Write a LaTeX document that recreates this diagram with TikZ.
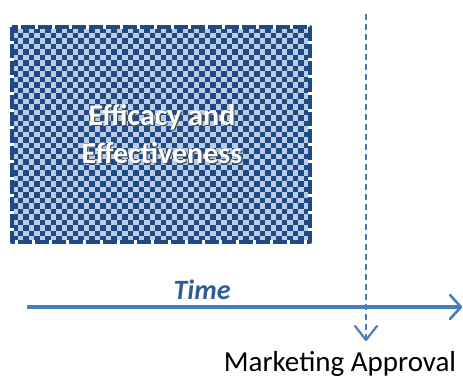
\documentclass[tikz,border=0pt]{standalone}
\usepackage{fontspec}
\setmainfont{Carlito}
\definecolor{boxdark}{HTML}{1F4A86}
\definecolor{boxlight}{HTML}{B9CDE6}
\definecolor{axisblue}{HTML}{4A7EBB}
\definecolor{timeblue}{HTML}{2F5D9B}
\tikzset{
  axisline/.style={axisblue, line width=4pt},
  approvline/.style={axisblue, line width=2.2pt, dash pattern=on 6pt off 4pt},
  chevron/.style={axisblue, line width=2.6pt, line cap=round, line join=round},
  boxtext/.style={font=\fontsize{30}{38}\selectfont\bfseries, text=white, inner sep=0pt},
  shadowtext/.style={font=\fontsize{30}{38}\selectfont\bfseries, text=black!70, inner sep=0pt},
}
\begin{document}
\begin{tikzpicture}[x=1pt,y=-1pt]
\useasboundingbox (0,0) rectangle (463,378);
% checkerboard box
\coordinate (bnw) at (12,27);
\coordinate (bse) at (310,242);
\begin{scope}
  \clip (bnw) rectangle (bse);
  \fill[boxlight] (bnw) rectangle (bse);
  \foreach \i in {0,...,27}{
    \foreach \j in {0,...,19}{
      \fill[boxdark] (12+11*\i,27+11*\j) rectangle ++(5.5,5.5);
      \fill[boxdark] (17.5+11*\i,32.5+11*\j) rectangle ++(5.5,5.5);
    }
  }
\end{scope}
\draw[white, line width=4pt] (bnw) rectangle (bse);
\draw[boxdark, line width=4pt, dash pattern=on 14pt off 3pt, line join=round] (bnw) rectangle (bse);
% box text
\node[shadowtext, anchor=base] at (163.2,126.2) {Efficacy and};
\node[shadowtext, anchor=base] at (163.2,164.2) {Effectiveness};
\node[boxtext, anchor=base] (t1) at (162,125) {Efficacy and};
\node[boxtext, anchor=base] (t2) at (162,163) {Effectiveness};
% time axis
\coordinate (tstart) at (27,307);
\coordinate (tend) at (461,307);
\draw[axisline] (tstart) -- (tend);
\draw[chevron] (450,295) -- (tend) -- (450,319);
\node[anchor=base, inner sep=0pt, text=timeblue, font=\fontsize{28}{34}\selectfont\bfseries\itshape] (time) at (202,299) {Time};
% approval line
\coordinate (atop) at (366,14);
\coordinate (atip) at (366,340);
\draw[approvline] (atop) -- (atip);
\draw[chevron, line width=2.2pt] (355,326) -- (atip) -- (377,326);
\node[anchor=base, inner sep=0pt, font=\fontsize{29}{36}\selectfont] (appr) at (340,371) {Marketing Approval};
\end{tikzpicture}
\end{document}
